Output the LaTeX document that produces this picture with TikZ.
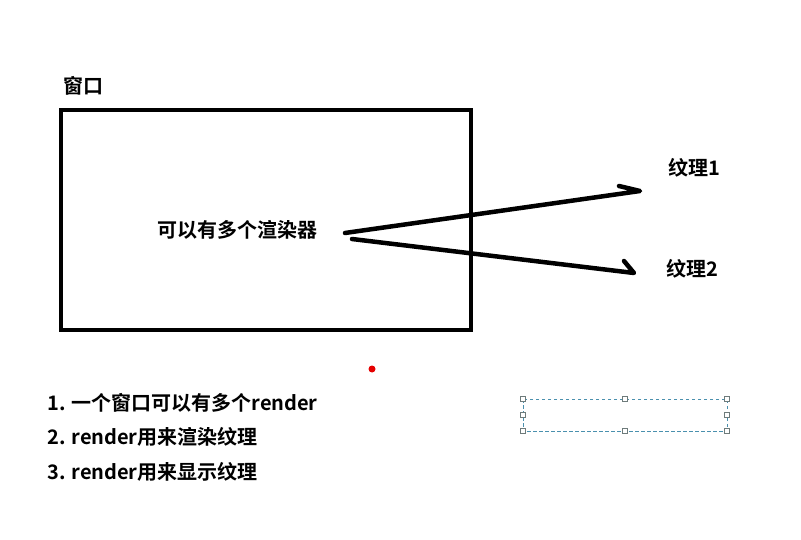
\documentclass[tikz,border=0pt]{standalone}
\usepackage{fontspec}
\setmainfont{Noto Sans CJK SC}[BoldFont={* Bold}]
\newfontfamily\cjkb{Noto Sans CJK SC Bold}
\definecolor{selcol}{HTML}{4A90AE}
\definecolor{handlecol}{HTML}{6E7B7B}
\begin{document}
\begin{tikzpicture}[x=1pt,y=-1pt,
  lbl/.style={font=\cjkb\fontsize{20}{22}\selectfont, inner sep=0pt},
  listlbl/.style={font=\cjkb\fontsize{20}{22}\selectfont, inner sep=0pt, anchor=west},
  stroke/.style={line width=4.5pt, line cap=round, line join=round},
  handle/.style={draw=handlecol, fill=white, line width=0.7pt, minimum size=4.5pt, inner sep=0pt, rectangle}
]
\useasboundingbox (0,0) rectangle (801,540);
% window
\node[draw, line width=4pt, minimum width=410pt, minimum height=220pt, inner sep=0pt] (win) at (266,220) {};
\node[lbl] (wlabel) at (83,86) {窗口};
\node[lbl] (rend) at (237,230) {可以有多个渲染器};
% arrows
\coordinate (s1) at (345,233);
\coordinate (e1) at (640,191);
\coordinate (h1) at (619,186);
\coordinate (s2) at (352,239);
\coordinate (e2) at (634,273);
\coordinate (h2) at (624,261);
\draw[stroke] (s1) -- (e1) -- (h1);
\draw[stroke] (s2) -- (e2) -- (h2);
\node[lbl] (t1) at (694,168) {纹理1};
\node[lbl] (t2) at (692,269) {纹理2};
% red dot
\fill[red!90!black] (372,369) circle (3.5pt);
% list
\node[listlbl] (l1) at (47,403) {1. 一个窗口可以有多个render};
\node[listlbl] (l2) at (47,437) {2. render用来渲染纹理};
\node[listlbl] (l3) at (47,472) {3. render用来显示纹理};
% selection box
\draw[selcol, dash pattern=on 3.5pt off 2.5pt, line width=1pt] (523,399) rectangle (727,431);
\foreach \p/\n in {{(523,399)}/a,{(625,399)}/b,{(727,399)}/c,{(523,415)}/d,{(727,415)}/e,{(523,431)}/f,{(625,431)}/g,{(727,431)}/h}
  \node[handle] (hd\n) at \p {};
\end{tikzpicture}
\end{document}
